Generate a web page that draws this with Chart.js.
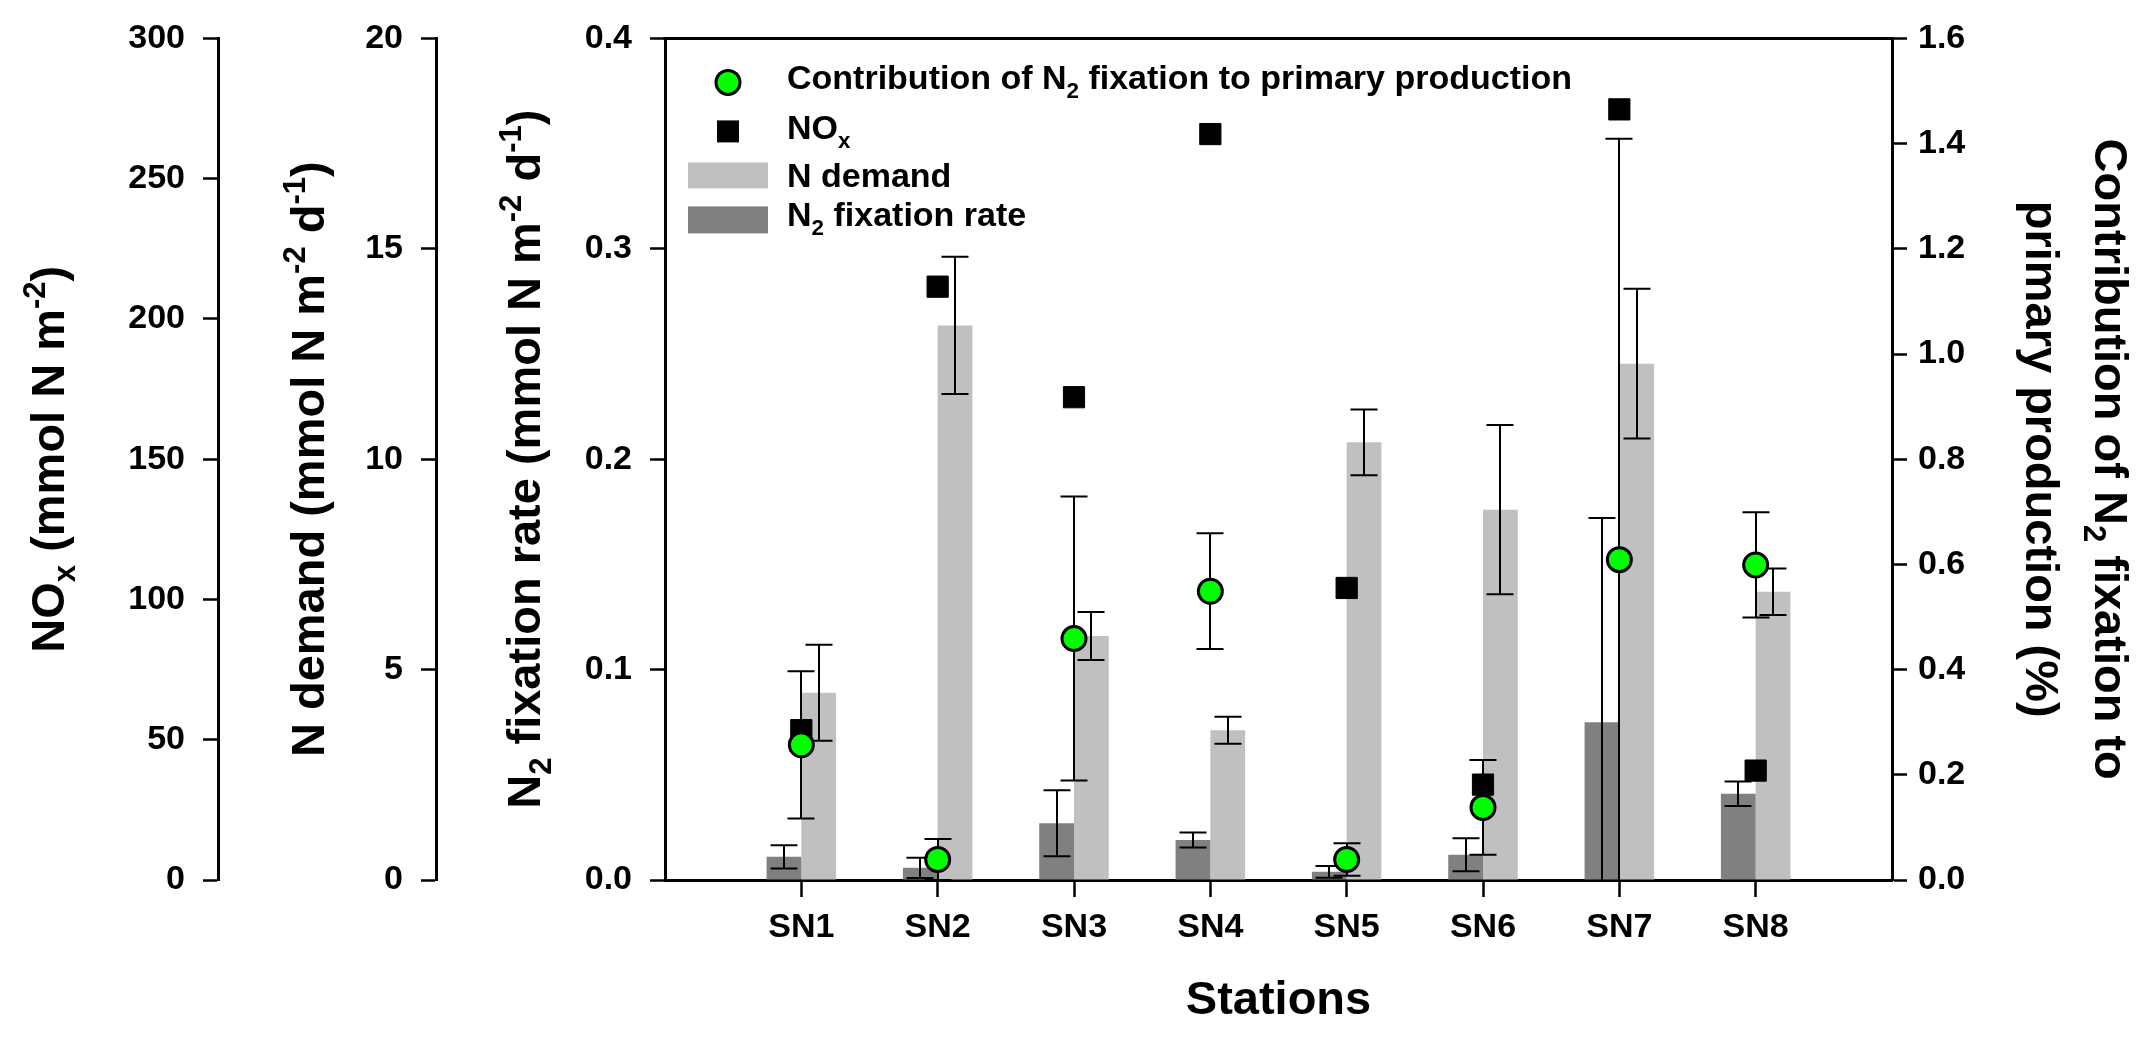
<!DOCTYPE html>
<html><head><meta charset="utf-8">
<script src="https://cdn.jsdelivr.net/npm/chart.js@4.4.1/dist/chart.umd.min.js"></script>
<style>html,body{margin:0;padding:0;background:#fff;} #wrap{width:2149px;height:1037px;position:relative;}</style>
</head><body><div id="wrap"><canvas id="c"></canvas></div>
<script>
// ---------------- data ----------------
const stations = ['SN1','SN2','SN3','SN4','SN5','SN6','SN7','SN8'];
const n2FixRate    = [0.011, 0.0058, 0.027, 0.019, 0.0039, 0.012, 0.075, 0.041];   // mmol N m-2 d-1
const n2FixRateErr = [0.0055, 0.0048, 0.0157, 0.0036, 0.0028, 0.0078, 0.097, 0.0058];
const nDemand      = [4.45, 13.18, 5.80, 3.56, 10.40, 8.80, 12.27, 6.85];           // mmol N m-2 d-1
const nDemandErr   = [1.14, 1.63, 0.57, 0.32, 0.78, 2.01, 1.78, 0.55];
const noxValues    = [53.4, 211.5, 172.1, 265.9, 104.1, 34.0, 274.7, 39.0];         // mmol N m-2
const contribution    = [0.257, 0.039, 0.459, 0.549, 0.039, 0.138, 0.609, 0.599];   // %
const contributionErr = [0.14, 0.039, 0.27, 0.11, 0.031, 0.09, 0.80, 0.10];

const fixTicks    = [0, 0.1, 0.2, 0.3, 0.4];
const demandTicks = [0, 5, 10, 15, 20];
const noxTicks    = [0, 50, 100, 150, 200, 250, 300];
const pctTicks    = [0, 0.2, 0.4, 0.6, 0.8, 1.0, 1.2, 1.4, 1.6];

// ---------------- helpers ----------------
const FONT = '"Liberation Sans", Arial, Helvetica, sans-serif';
const pad = a => [null, ...a, null];
const xLabels = ['', ...stations, ''];
const tickFont = {family: FONT, size: 34, weight: 'bold'};

function setTicks(arr){ return s => { s.ticks = arr.map(v => ({value: v})); }; }
function fixW(w){ return s => { s.width = w; }; }

function yAxis(pos, weight, min, max, ticksArr, width, fmt, padding){
  return {
    type: 'linear', position: pos, weight: weight, min: min, max: max,
    afterBuildTicks: setTicks(ticksArr), afterFit: fixW(width),
    border: {display: true, color: '#000', width: 3},
    grid: {display: true, drawOnChartArea: false, drawTicks: true, tickLength: 15, tickWidth: 2.5, tickColor: '#000', color: '#000'},
    ticks: {color: '#000', font: tickFont, padding: padding, callback: fmt},
    title: {display: false}
  };
}

function segsWidth(ctx, segs, size){
  let w = 0;
  for (const s of segs){
    const sz = s[1] ? size*0.66 : size;
    ctx.font = 'bold ' + sz + 'px ' + FONT;
    w += ctx.measureText(s[0]).width;
  }
  return w;
}
// draws rich text; (cx,cy) is middle of cap height of the base text
function drawRich(ctx, segs, size, cx, cy, angle, align){
  ctx.save();
  ctx.translate(cx, cy);
  ctx.rotate(angle);
  ctx.fillStyle = '#000';
  ctx.textBaseline = 'alphabetic';
  ctx.textAlign = 'left';
  const total = segsWidth(ctx, segs, size);
  let x = align === 'left' ? 0 : -total/2;
  const base = size*0.358;
  for (const s of segs){
    const sub = s[1] === 'sub', sup = s[1] === 'sup';
    const sz = (sub||sup) ? size*0.66 : size;
    ctx.font = 'bold ' + sz + 'px ' + FONT;
    const dy = sub ? size*0.24 : (sup ? -size*0.40 : 0);
    ctx.fillText(s[0], x, base + dy);
    x += ctx.measureText(s[0]).width;
  }
  ctx.restore();
}

// ---------------- plugins ----------------
function drawErrors(chart, meta, ds){
  const errs = ds.errorData; if (!errs) return;
  const ctx = chart.ctx, ys = chart.scales[meta.yAxisID];
  const half = 13.5;
  ctx.save();
  ctx.strokeStyle = '#000'; ctx.lineWidth = 2; ctx.lineCap = 'butt';
  meta.data.forEach((el, i) => {
    const v = ds.data[i], e = errs[i];
    if (v == null || e == null) return;
    const hi = v + e, lo = v - e;
    const yHi = ys.getPixelForValue(Math.min(hi, ys.max));
    const loClip = lo < ys.min;
    const yLo = ys.getPixelForValue(Math.max(lo, ys.min));
    const x = Math.round(el.x);
    ctx.beginPath();
    ctx.moveTo(x, yHi); ctx.lineTo(x, yLo);
    ctx.moveTo(x - half, yHi); ctx.lineTo(x + half, yHi);
    if (!loClip){ ctx.moveTo(x - half, yLo); ctx.lineTo(x + half, yLo); }
    ctx.stroke();
  });
  ctx.restore();
}
const errorBarPlugin = {
  id: 'errorBars',
  beforeDatasetDraw(chart, args){
    const ds = chart.data.datasets[args.index];
    if (ds.errorWhen === 'before') drawErrors(chart, args.meta, ds);
  },
  afterDatasetDraw(chart, args){
    const ds = chart.data.datasets[args.index];
    if (ds.errorWhen === 'after') drawErrors(chart, args.meta, ds);
  }
};

const decorPlugin = {
  id: 'decor',
  afterDraw(chart){
    const ctx = chart.ctx, ca = chart.chartArea, sc = chart.scales;
    // top frame line
    ctx.save();
    ctx.strokeStyle = '#000'; ctx.lineWidth = 3;
    ctx.beginPath(); ctx.moveTo(ca.left - 1.5, ca.top); ctx.lineTo(ca.right + 1.5, ca.top); ctx.stroke();
    ctx.restore();

    const T = 47;
    const midY = (ca.top + ca.bottom)/2;
    drawRich(ctx, [['NO'],['x','sub'],[' (mmol N m'],['-2','sup'],[')']], T, sc.yNox.right - 171, midY, -Math.PI/2);
    drawRich(ctx, [['N demand (mmol N m'],['-2','sup'],[' d'],['-1','sup'],[')']], T, sc.yDemand.right - 129, midY, -Math.PI/2);
    drawRich(ctx, [['N'],['2','sub'],[' fixation rate (mmol N m'],['-2','sup'],[' d'],['-1','sup'],[')']], T, sc.yFix.right - 142, midY, -Math.PI/2);
    drawRich(ctx, [['Contribution of N'],['2','sub'],[' fixation to']], T, sc.yPct.left + 220, midY, Math.PI/2);
    drawRich(ctx, [['primary production (%)']], T, sc.yPct.left + 151, midY, Math.PI/2);
    drawRich(ctx, [['Stations']], T, (ca.left + ca.right)/2, 997, 0);

    // legend
    const L = ca.left, Tp = ca.top, LS = 34, tx = L + 122;
    ctx.save();
    ctx.beginPath(); ctx.arc(L + 63, Tp + 44, 12, 0, Math.PI*2);
    ctx.fillStyle = '#00FF00'; ctx.fill(); ctx.lineWidth = 3; ctx.strokeStyle = '#000'; ctx.stroke();
    ctx.fillStyle = '#000'; ctx.fillRect(L + 52, Tp + 82, 22, 22);
    ctx.fillStyle = '#C0C0C0'; ctx.fillRect(L + 23, Tp + 124, 80, 26);
    ctx.fillStyle = '#808080'; ctx.fillRect(L + 23, Tp + 168, 80, 27);
    ctx.restore();
    const cm = LS*0.358;
    drawRich(ctx, [['Contribution of N'],['2','sub'],[' fixation to primary production']], LS, tx, Tp + 51 - cm, 0, 'left');
    drawRich(ctx, [['NO'],['x','sub']], LS, tx, Tp + 101 - cm, 0, 'left');
    drawRich(ctx, [['N demand']], LS, tx, Tp + 149 - cm, 0, 'left');
    drawRich(ctx, [['N'],['2','sub'],[' fixation rate']], LS, tx, Tp + 188 - cm, 0, 'left');
  }
};

// ---------------- chart ----------------
new Chart(document.getElementById('c'), {
  type: 'bar',
  data: {
    labels: xLabels,
    datasets: [
      {type: 'bar', label: 'N2 fixation rate', data: pad(n2FixRate), errorData: pad(n2FixRateErr), errorWhen: 'after',
       yAxisID: 'yFix', backgroundColor: '#808080', borderWidth: 0, order: 3,
       categoryPercentage: 0.51, barPercentage: 1.0},
      {type: 'bar', label: 'N demand', data: pad(nDemand), errorData: pad(nDemandErr), errorWhen: 'after',
       yAxisID: 'yDemand', backgroundColor: '#C0C0C0', borderWidth: 0, order: 4,
       categoryPercentage: 0.51, barPercentage: 1.0},
      {type: 'line', label: 'NOx', data: pad(noxValues), yAxisID: 'yNox', showLine: false,
       pointStyle: 'rect', pointRadius: 15, pointBackgroundColor: '#000', pointBorderColor: '#000', pointBorderWidth: 1, order: 2},
      {type: 'line', label: 'Contribution of N2 fixation to primary production', data: pad(contribution),
       errorData: pad(contributionErr), errorWhen: 'before',
       yAxisID: 'yPct', showLine: false, pointStyle: 'circle', pointRadius: 12,
       pointBackgroundColor: '#00FF00', pointBorderColor: '#000', pointBorderWidth: 3, order: 1}
    ]
  },
  options: {
    responsive: true, maintainAspectRatio: false, animation: false, devicePixelRatio: 1,
    layout: {padding: {top: 24, left: 0, right: 0, bottom: 0}},
    plugins: {legend: {display: false}, tooltip: {enabled: false}},
    scales: {
      x: {
        type: 'category', offset: false, position: 'bottom',
        afterFit: s => { s.height = 157; },
        border: {display: true, color: '#000', width: 3},
        grid: {display: true, offset: false, drawOnChartArea: false, drawTicks: true, tickLength: 17, tickWidth: 2.5,
               tickColor: c => (c.index === 0 || c.index === xLabels.length - 1) ? 'rgba(0,0,0,0)' : '#000'},
        ticks: {color: '#000', font: tickFont, padding: 10, autoSkip: false, maxRotation: 0}
      },
      yNox:    yAxis('left', 2, 0, 300, noxTicks, 218, v => String(v), 18),
      yDemand: yAxis('left', 1, 0, 20, demandTicks, 218, v => String(v), 18),
      yFix:    yAxis('left', 0, 0, 0.4, fixTicks, 229, v => v.toFixed(1), 18),
      yPct:    yAxis('right', 0, 0, 1.6, pctTicks, 257, v => v.toFixed(1), 11)
    }
  },
  plugins: [errorBarPlugin, decorPlugin]
});
</script>
</body></html>
